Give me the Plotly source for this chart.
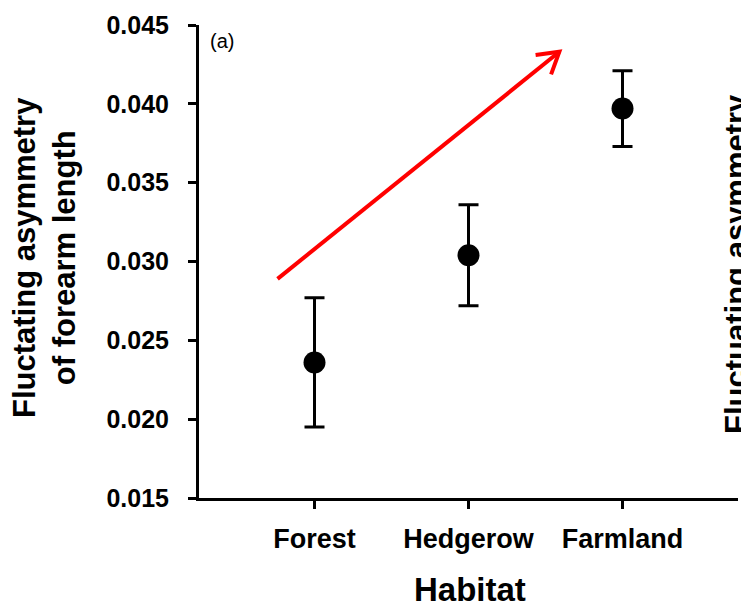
import math
import plotly.graph_objects as go

# ---- data ----
habitats = ["Forest", "Hedgerow", "Farmland"]
fa_mean = [0.0236, 0.0304, 0.0397]
fa_err = [0.0041, 0.0032, 0.0024]
y_ticks = [0.015, 0.020, 0.025, 0.030, 0.035, 0.040, 0.045]
y_title = "Fluctating asymmetry<br>of forearm length"
x_title = "Habitat"
panel_label = "(a)"
next_panel_title = "Fluctuating asymmetry"
# trend arrow (data coordinates: category index, y value)
arrow_start = (-0.24, 0.0289)
arrow_end = (1.59, 0.0433)

W, H = 741, 613
ML, MR, MT, MB = 199, 3, 25, 115
XR = [-0.75, 2.75]
YR = [0.015, 0.045]
FONT = "Liberation Sans, Arial, sans-serif"

xs = list(range(len(habitats)))

fig = go.Figure()
fig.add_trace(go.Scatter(
    x=xs, y=fa_mean, mode="markers",
    marker=dict(color="black", size=22),
    error_y=dict(type="data", array=fa_err, visible=True,
                 color="black", thickness=3, width=10),
    showlegend=False,
))

# arrow shaft + open chevron head
pw = W - ML - MR
ph = H - MT - MB
sx = pw / (XR[1] - XR[0])
sy = ph / (YR[1] - YR[0])
dxp = (arrow_start[0] - arrow_end[0]) * sx
dyp = (arrow_start[1] - arrow_end[1]) * sy
ang = math.atan2(dyp, dxp)
L = 24
pts = []
for da in (math.radians(31), math.radians(-31)):
    a = ang + da
    pts.append((arrow_end[0] + L * math.cos(a) / sx,
                arrow_end[1] + L * math.sin(a) / sy))
red = "#ff0000"
fig.add_shape(type="line", xref="x", yref="y",
              x0=arrow_start[0], y0=arrow_start[1],
              x1=arrow_end[0], y1=arrow_end[1],
              line=dict(color=red, width=4))
path = "M {},{} L {},{} L {},{}".format(pts[0][0], pts[0][1],
                                         arrow_end[0], arrow_end[1],
                                         pts[1][0], pts[1][1])
fig.add_shape(type="path", xref="x", yref="y", path=path,
              line=dict(color=red, width=4))

fig.update_layout(
    width=W, height=H,
    margin=dict(l=ML, r=MR, t=MT, b=MB, pad=0),
    paper_bgcolor="white", plot_bgcolor="white",
    font=dict(family=FONT, color="black"),
    xaxis=dict(range=XR, tickvals=xs, ticktext=["<b>%s</b>" % h for h in habitats],
               showline=True, linecolor="black", linewidth=3,
               ticks="outside", ticklen=8, tickwidth=3, tickcolor="black",
               showgrid=False, zeroline=False,
               tickfont=dict(size=27, family=FONT), ticklabelstandoff=7),
    yaxis=dict(range=YR, tickvals=y_ticks,
               ticktext=["<b>%.3f</b>" % v for v in y_ticks],
               showline=True, linecolor="black", linewidth=3,
               ticks="outside", ticklen=8, tickwidth=3, tickcolor="black",
               showgrid=False, zeroline=False,
               tickfont=dict(size=25, family=FONT), ticklabelstandoff=14),
)

fig.add_annotation(xref="paper", yref="paper", x=(44 - ML) / pw, y=(H - MB - 258) / ph,
                   text="<b>%s</b>" % y_title, textangle=-90, showarrow=False,
                   xanchor="center", yanchor="middle",
                   font=dict(size=31, family=FONT))
fig.add_annotation(xref="paper", yref="paper", x=(470 - ML) / pw, y=(H - MB - 589) / ph,
                   text="<b>%s</b>" % x_title, showarrow=False,
                   xanchor="center", yanchor="middle",
                   font=dict(size=33, family=FONT))
fig.add_annotation(xref="paper", yref="paper", x=(222 - ML) / pw, y=(H - MB - 41) / ph,
                   text=panel_label, showarrow=False,
                   xanchor="center", yanchor="middle",
                   font=dict(size=20, family=FONT))
fig.add_annotation(xref="paper", yref="paper", x=(736 - ML) / pw, y=(H - MB - 264) / ph,
                   text="<b>%s</b>" % next_panel_title, textangle=-90, showarrow=False,
                   xanchor="center", yanchor="middle",
                   font=dict(size=31, family=FONT))

fig.write_html("out.html")
